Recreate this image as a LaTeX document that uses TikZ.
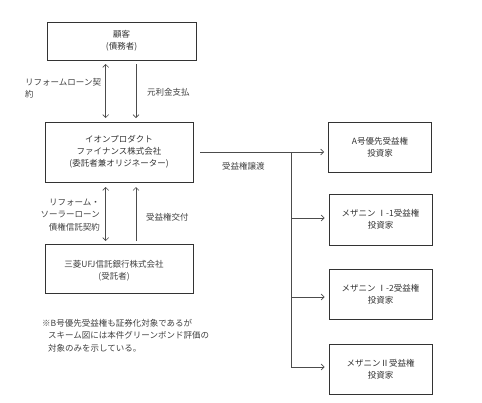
\documentclass[tikz,border=0pt]{standalone}
\usepackage{fontspec}
\setmainfont{Noto Sans CJK JP}
\usetikzlibrary{arrows.meta}
\begin{document}
\begin{tikzpicture}[x=1pt,y=-1pt,
  box/.style={draw=black!80, line width=0.9pt, inner sep=0pt, align=center, text=black!80,
    font=\fontsize{8.5}{12}\selectfont},
  lbl/.style={inner sep=0pt, text=black!75, font=\fontsize{8.5}{12.5}\selectfont},
  conn/.style={draw=black!70, line width=0.6pt},
  >={Straight Barb[length=3pt,width=6pt]}]
\useasboundingbox (0,0) rectangle (482,402);
% left column
\node[box, minimum width=149pt, minimum height=38pt] (cust) at (121.5,41) {顧客\\(債務者)};
\node[box, minimum width=148pt, minimum height=60pt] (aeon) at (119,152) {イオンプロダクト\\ファイナンス株式会社\\(委託者兼オリジネーター)};
\node[box, minimum width=148pt, minimum height=49pt] (mufg) at (119,268.5) {};
\node[lbl, align=center, font=\fontsize{8.5}{12}\selectfont] (mufgt) at (114,271) {三菱UFJ信託銀行株式会社\\(受託者)};
% right column
\node[box, minimum width=103pt, minimum height=50pt] (inA) at (380,147) {A号優先受益権\\投資家};
\node[box, minimum width=103pt, minimum height=51pt] (inM1) at (380.5,219.5) {メザニン Ⅰ-1受益権\\投資家};
\node[box, minimum width=103pt, minimum height=50pt] (inM2) at (380.5,294) {メザニン Ⅰ-2受益権\\投資家};
\node[box, minimum width=103pt, minimum height=50pt] (inM3) at (380.5,369) {メザニンⅡ受益権\\投資家};
% vertical arrows
\coordinate (a1t) at (105.7,64); \coordinate (a1b) at (105.7,118);
\coordinate (a2t) at (136,64);   \coordinate (a2b) at (136,118);
\coordinate (a3t) at (105.7,187); \coordinate (a3b) at (105.7,241);
\coordinate (a4t) at (136,187);  \coordinate (a4b) at (136,241);
\draw[conn,<->] (a1t) -- (a1b);
\draw[conn,->] (a2t) -- (a2b);
\draw[conn,<->] (a3t) -- (a3b);
\draw[conn,->] (a4b) -- (a4t);
% labels
\node[lbl, align=left, anchor=north west] (l1) at (25,78) {リフォームローン契\\約};
\node[lbl, anchor=west] (l2) at (147,92) {元利金支払};
\node[lbl, align=right, anchor=east] (l3) at (100,215) {リフォーム・\\ソーラーローン\\債権信託契約};
\node[lbl, anchor=west] (l4) at (146,217) {受益権交付};
\node[lbl, anchor=west] (l5) at (222,166) {受益権譲渡};
% distribution
\coordinate (s0) at (200,152);
\coordinate (j0) at (291,152);
\coordinate (j1) at (291,218);
\coordinate (j2) at (291,297);
\coordinate (j3) at (291,367);
\draw[conn,->] (s0) -- ([xshift=-4pt]inA.west |- s0);
\draw[conn] (j0) -- (j3);
\draw[conn,->] (j1) -- ([xshift=-4pt]inM1.west |- j1);
\draw[conn,->] (j2) -- ([xshift=-4pt]inM2.west |- j2);
\draw[conn,->] (j3) -- ([xshift=-4pt]inM3.west |- j3);
% note
\node[lbl, align=left, anchor=north west] (note) at (42,319) {※B号優先受益権も証券化対象であるが\\\hspace*{6pt}スキーム図には本件グリーンボンド評価の\\\hspace*{6pt}対象のみを示している。};
\end{tikzpicture}
\end{document}
